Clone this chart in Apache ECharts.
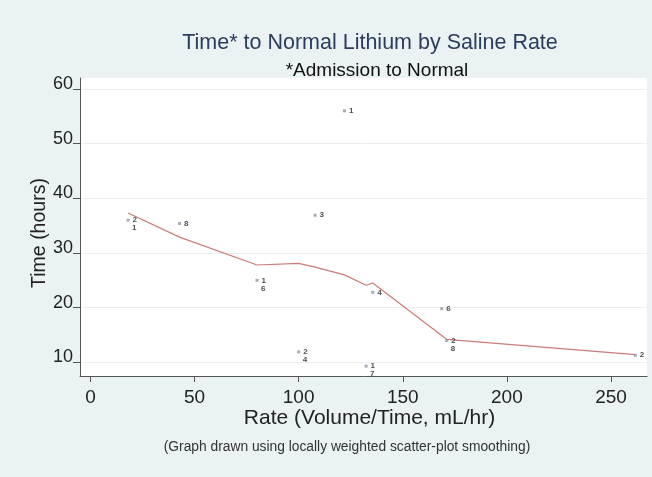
<!DOCTYPE html>
<html>
<head>
<meta charset="utf-8">
<script src="https://cdn.jsdelivr.net/npm/echarts@6/dist/echarts.min.js"></script>
<style>
  html, body { margin: 0; padding: 0; background: #eaf2f3; }
  #chart { width: 652px; height: 477px; }
</style>
</head>
<body>
<div id="chart"></div>
<script>
// ---- data ----
const rates   = [18.1, 42.8, 80.0, 100.0, 107.9, 122.0, 132.4, 135.6, 168.7, 171.1, 261.7];
const times   = [36.0, 35.4, 25.0, 11.9, 36.9, 56.0, 9.3, 22.8, 19.8, 14.0, 11.3];
const labels  = ['2', '8', '1', '2', '3', '1', '1', '4', '6', '2', '2'];
const labels2 = ['1', '',  '6', '4', '',  '',  '7', '',  '',  '8', ''];
const lowessX = [18.1, 42.8, 80.0, 100.0, 107.9, 122.0, 132.4, 135.6, 168.7, 171.1, 261.7];
const lowessY = [37.3, 32.9, 27.8, 28.1, 27.4, 26.0, 24.1, 24.5, 14.9, 14.2, 11.4];
const xTicks  = [0, 50, 100, 150, 200, 250];
const yTicks  = [10, 20, 30, 40, 50, 60];

const FONT = 'Liberation Sans';
const pts  = rates.map((x, i) => ({ value: [x, times[i]], lab: labels[i] }));
const pts2 = rates.map((x, i) => ({ value: [x, times[i]], lab: labels2[i] }));
const line = lowessX.map((x, i) => [x, lowessY[i]]);

const chart = echarts.init(document.getElementById('chart'), null, { renderer: 'canvas' });
chart.setOption({
  backgroundColor: '#eaf2f3',
  animation: false,
  title: [
    { text: 'Time* to Normal Lithium by Saline Rate', left: 365, top: 27, textAlign: 'center',
      textStyle: { fontFamily: FONT, fontSize: 21.5, fontWeight: 'normal', color: '#2c3d5c' } },
    { text: '*Admission to Normal', left: 372, top: 56, textAlign: 'center',
      textStyle: { fontFamily: FONT, fontSize: 19, fontWeight: 'normal', color: '#111' } },
    { text: '(Graph drawn using locally weighted scatter-plot smoothing)', left: 342, top: 435, textAlign: 'center',
      textStyle: { fontFamily: FONT, fontSize: 13.8, fontWeight: 'normal', color: '#333' } }
  ],
  grid: { left: 80, top: 78, width: 567, height: 298, show: true, backgroundColor: '#ffffff', borderWidth: 0 },
  xAxis: {
    type: 'value', min: -5, max: 267.3,
    name: 'Rate (Volume/Time, mL/hr)', nameLocation: 'middle', nameGap: 32, nameMoveOverlap: false,
    nameTextStyle: { fontFamily: FONT, fontSize: 21, color: '#222', padding: [0, 0, 0, 12] },
    axisLine: { show: true, onZero: false, lineStyle: { color: '#555', width: 1 } },
    axisTick: { show: true, length: 6, customValues: xTicks, lineStyle: { color: '#555' } },
    axisLabel: { customValues: xTicks, fontFamily: FONT, fontSize: 19, color: '#222', margin: 12 },
    splitLine: { show: false }
  },
  yAxis: {
    type: 'value', min: 7.5, max: 62.0,
    name: 'Time (hours)', nameLocation: 'middle', nameGap: 30, nameRotate: 90, nameMoveOverlap: false,
    nameTextStyle: { fontFamily: FONT, fontSize: 19.5, color: '#222', padding: [0, 12, 0, 0] },
    axisLine: { show: true, onZero: false, lineStyle: { color: '#555', width: 1 } },
    axisTick: { show: true, length: 7, customValues: yTicks, lineStyle: { color: '#555' } },
    axisLabel: { customValues: yTicks, fontFamily: FONT, fontSize: 18, color: '#222', margin: 7,
                 verticalAlign: 'bottom', lineHeight: 10 },
    splitLine: { show: true, lineStyle: { color: '#ededed', width: 1 } }
  },
  series: [
    {
      type: 'line', data: line, showSymbol: false, symbol: 'none', smooth: false,
      lineStyle: { color: '#cc7a7a', width: 1.2 }, z: 2
    },
    {
      type: 'scatter', data: pts, symbol: 'rect', symbolSize: 3,
      itemStyle: { color: '#8e9aab' }, z: 3,
      label: { show: true, position: 'right', distance: 3, formatter: p => p.data.lab,
               fontFamily: FONT, fontSize: 8, fontWeight: 'bold', color: '#222' }
    },
    {
      type: 'scatter', data: pts2, symbol: 'circle', symbolSize: 2, z: 3,
      itemStyle: { color: 'rgba(0,0,0,0)' },
      label: { show: true, position: 'right', distance: 3, offset: [0, 8], formatter: p => p.data.lab,
               fontFamily: FONT, fontSize: 8, fontWeight: 'bold', color: '#222' }
    }
  ]
});
</script>
</body>
</html>
